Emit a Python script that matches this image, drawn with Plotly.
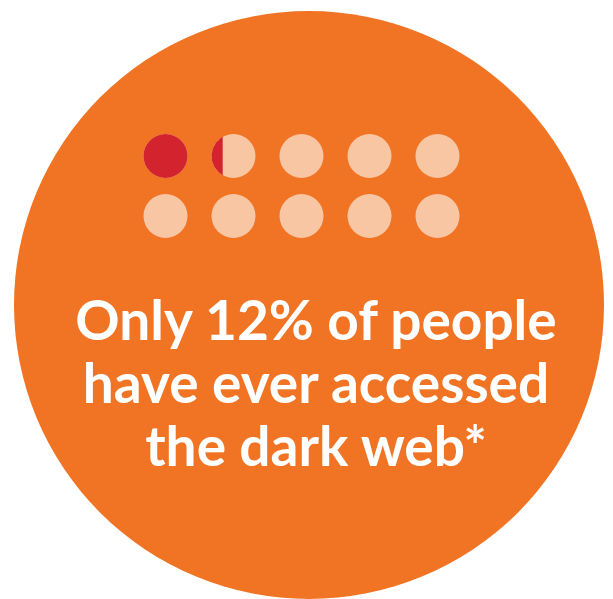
import numpy as np
import plotly.graph_objects as go

# ---- data ----
percent_accessed = 12          # % of people who have ever accessed the dark web
n_dots = 10                    # each dot = 10% of people
n_cols = 5
headline_lines = ["Only 12% of people", "have ever accessed", "the dark web*"]

# ---- styling ----
W, H = 613, 599
BG_ORANGE = "#F07423"
DOT_LIGHT = "#F9C6A4"
DOT_RED = "#D2232E"
TEXT_COLOR = "#FFFFFF"

# grid geometry (pixel units)
dot_x0, dot_y0 = 165.5, 156
dot_dx, dot_dy = 68, 60
dot_r = 22

cols = np.arange(n_dots) % n_cols
rows = np.arange(n_dots) // n_cols
dx = dot_x0 + cols * dot_dx
dy = dot_y0 + rows * dot_dy

per_dot = 100 / n_dots
full = int(percent_accessed // per_dot)
frac = (percent_accessed - full * per_dot) / per_dot

fig = go.Figure()

# big orange disc
fig.add_shape(type="circle", xref="x", yref="y", x0=14, y0=11, x1=604, y1=599,
              fillcolor=BG_ORANGE, line=dict(width=0), layer="below")

# light dots (all)
fig.add_trace(go.Scatter(x=dx, y=dy, mode="markers",
                         marker=dict(size=2 * dot_r, color=DOT_LIGHT, line=dict(width=0)),
                         hoverinfo="skip", showlegend=False))
# fully red dots
fig.add_trace(go.Scatter(x=dx[:full], y=dy[:full], mode="markers",
                         marker=dict(size=2 * dot_r, color=DOT_RED, line=dict(width=0)),
                         hoverinfo="skip", showlegend=False))

# partial red dot: circular segment on the left with area fraction = frac
if frac > 0:
    def seg_area(h):
        th = 2 * np.arccos(1 - h)
        return (th - np.sin(th)) / 2 / np.pi
    lo, hi = 0.0, 2.0
    for _ in range(60):
        mid = (lo + hi) / 2
        if seg_area(mid) < frac:
            lo = mid
        else:
            hi = mid
    h = (lo + hi) / 2
    a = np.arccos(1 - h)
    t = np.linspace(np.pi - a, np.pi + a, 80)
    cx, cy = dx[full], dy[full]
    px = cx + dot_r * np.cos(t)
    py = cy + dot_r * np.sin(t)
    px = np.append(px, px[0])
    py = np.append(py, py[0])
    fig.add_trace(go.Scatter(x=px, y=py, mode="lines", fill="toself",
                             fillcolor=DOT_RED, line=dict(width=0, color=DOT_RED),
                             hoverinfo="skip", showlegend=False))

# headline text
line_y = [326, 389, 452]
fig.add_trace(go.Scatter(x=[316] * len(headline_lines), y=line_y, mode="text",
                         text=headline_lines, textposition="middle center",
                         textfont=dict(family="Lato", size=55, color=TEXT_COLOR, weight="bold"),
                         hoverinfo="skip", showlegend=False))

fig.update_layout(width=W, height=H, margin=dict(l=0, r=0, t=0, b=0),
                  paper_bgcolor="white", plot_bgcolor="white",
                  xaxis=dict(range=[0, W], visible=False, fixedrange=True),
                  yaxis=dict(range=[H, 0], visible=False, fixedrange=True))

fig.write_html("out.html")
